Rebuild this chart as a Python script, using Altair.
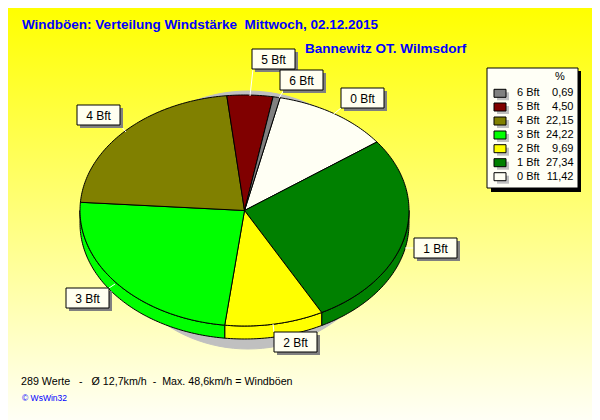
import numpy as np
import pandas as pd
import altair as alt

# --- data
categories = ["0 Bft", "1 Bft", "2 Bft", "3 Bft", "4 Bft", "5 Bft", "6 Bft"]
shares = [11.42, 27.34, 9.69, 24.22, 22.15, 4.50, 0.69]
share_labels = ["11,42", "27,34", "9,69", "24,22", "22,15", "4,50", "0,69"]
colors = ["#FFFFF4", "#008000", "#FFFF00", "#00FF00", "#808000", "#800000", "#808080"]

# --- layout
CX, CY, RX, RY, DEPTH = 244.5, 210.5, 164.5, 115.5, 13
START = 12.5
sx = alt.Scale(domain=[8, 592], nice=False, zero=False)
sy = alt.Scale(domain=[8, 420], nice=False, zero=False, reverse=True)
X = lambda f="x": alt.X(f"{f}:Q", scale=sx, axis=None)
Y = lambda f="y": alt.Y(f"{f}:Q", scale=sy, axis=None)

callouts = pd.DataFrame({
    "label": ["5 Bft", "6 Bft", "0 Bft", "4 Bft", "1 Bft", "2 Bft", "3 Bft"],
    "x0": [252, 280, 341, 77, 414, 274, 66],
    "y0": [49, 70, 88, 105, 238, 332, 288],
})
callouts["x1"] = callouts.x0 + 43
callouts["y1"] = callouts.y0 + 20
callouts["tx"] = callouts.x0 + 21.5
callouts["ty"] = callouts.y0 + 10.5
shadow = callouts.assign(x0=callouts.x0 + 3, x1=callouts.x1 + 3, y0=callouts.y0 + 3, y1=callouts.y1 + 3)

leaders = pd.DataFrame({
    "g": [0, 0, 1, 1, 2, 2, 3, 3, 4, 4, 5, 5, 6, 6],
    "i": [0, 1] * 7,
    "x": [253, 250, 284, 279, 341, 330, 120, 126, 414, 405, 274, 273, 109, 115],
    "y": [69, 96, 90, 98, 108, 117, 125, 132, 248, 248, 332, 324, 288, 284],
})

def rect(df, **kw):
    return alt.Chart(df).mark_rect(**kw).encode(x=X("x0"), x2="x1:Q", y=Y("y0"), y2="y1:Q")

def poly(pts, fill, stroke="black", width=1.0):
    df = pd.DataFrame(pts, columns=["x", "y"]).reset_index()
    return alt.Chart(df).mark_line(fill=fill, stroke=stroke, strokeWidth=width, interpolate="linear").encode(
        x=X(), y=Y(), order="index:Q")

def arc(a, b, dy=0.0):
    n = max(2, int(abs(b - a)) + 2)
    t = np.radians(np.linspace(a, b, n))
    return [(CX + RX * np.sin(v), CY + dy - RY * np.cos(v)) for v in t]

layers = []
# background
layers.append(rect(pd.DataFrame({"x0": [8], "x1": [592], "y0": [8], "y1": [420]}),
                   fill=alt.LinearGradient(gradient="linear", x1=0, y1=0, x2=0, y2=1,
                                     stops=[alt.GradientStop(color="#FFFF00", offset=0),
                                            alt.GradientStop(color="#FFFFF6", offset=1)])))
# drop shadow of the pie
t = np.radians(np.arange(0, 361, 3))
layers.append(poly([(248 + 140 * np.sin(v), 220 + 129 * np.cos(v)) for v in t], "#C0C0C0", "#C0C0C0"))

# wedges
edges = START + np.cumsum([0] + [s / sum(shares) * 360 for s in shares])
for i in range(len(shares)):
    a, b = max(edges[i], 90), min(edges[i + 1], 270)
    if a < b:
        layers.append(poly(arc(a, b) + arc(b, a, DEPTH) + arc(a, a + 1e-6)[:1], colors[i]))
for i in range(len(shares)):
    pts = [(CX, CY)] + arc(edges[i], edges[i + 1]) + [(CX, CY)]
    layers.append(poly(pts, colors[i]))

# leader lines
layers.append(alt.Chart(leaders).mark_line(color="white", strokeWidth=1).encode(
    x=X(), y=Y(), detail="g:N", order="i:Q"))
# callouts
layers.append(rect(shadow, fill="#808080"))
layers.append(rect(callouts, fill="#FFFFF0", stroke="black", strokeWidth=1))
layers.append(alt.Chart(callouts).mark_text(font="Liberation Sans", fontSize=12, color="black").encode(
    x=X("tx"), y=Y("ty"), text="label:N"))

# legend
LEG_Y = [176.7, 162.7, 148.7, 135, 121, 107, 93.3]
legend = pd.DataFrame({"label": categories, "val": share_labels, "col": colors, "y": LEG_Y})
legend["x0"], legend["x1"] = 494, 506
legend["y0"], legend["y1"] = legend.y - 4, legend.y + 4
legend["xt"], legend["xv"] = 517, 573.5
leg_sh = legend.assign(x0=497, x1=509, y0=legend.y - 1, y1=legend.y + 7)
layers.append(rect(pd.DataFrame({"x0": [491], "x1": [581], "y0": [71], "y1": [192]}), fill="black"))
layers.append(rect(pd.DataFrame({"x0": [487], "x1": [578], "y0": [68], "y1": [188]}),
                   fill="#FFFFF6", stroke="black", strokeWidth=1))
layers.append(rect(leg_sh, fill="#C0C0C0"))
layers.append(alt.Chart(legend).mark_rect(stroke="black", strokeWidth=1).encode(
    x=X("x0"), x2="x1:Q", y=Y("y0"), y2="y1:Q",
    fill=alt.Fill("col:N", scale=None)))
layers.append(alt.Chart(legend).mark_text(font="Liberation Sans", fontSize=11, align="left", color="black").encode(
    x=X("xt"), y=Y(), text="label:N"))
layers.append(alt.Chart(legend).mark_text(font="Liberation Sans", fontSize=11, align="right", color="black").encode(
    x=X("xv"), y=Y(), text="val:N"))

# free texts
texts = pd.DataFrame({
    "x": [22, 305, 21, 22, 560],
    "y": [25, 49, 382, 398, 77],
    "t": ["Windböen: Verteilung Windstärke\u00a0\u00a0Mittwoch, 02.12.2015",
          "Bannewitz OT. Wilmsdorf",
          "289 Werte\u00a0\u00a0\u00a0-\u00a0\u00a0\u00a0Ø 12,7km/h\u00a0\u00a0-\u00a0\u00a0Max. 48,6km/h = Windböen",
          "© WsWin32",
          "%"],
})
styles = [(13.5, "bold", "#0000FF", "left"), (13.5, "bold", "#0000FF", "left"),
          (10.7, "normal", "black", "left"), (8.5, "normal", "#0000FF", "left"),
          (11, "normal", "black", "center")]
for i, (fs, fw, col, al) in enumerate(styles):
    layers.append(alt.Chart(texts.iloc[[i]]).mark_text(font="Liberation Sans", fontSize=fs, fontWeight=fw,
                                                       color=col, align=al).encode(x=X(), y=Y(), text="t:N"))

chart = alt.layer(*layers).properties(width=584, height=412, padding=0, background="#FFFF00").configure_view(stroke=None)
chart.save("out.html", embed_options={"renderer": "svg", "actions": False})
